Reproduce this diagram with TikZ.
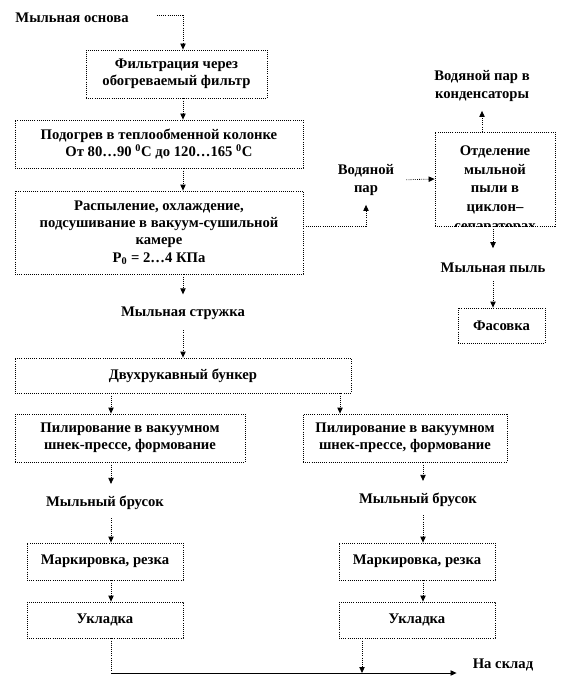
\documentclass[tikz,border=0pt]{standalone}
\usepackage{fontspec}
\setmainfont{Liberation Serif}
\usetikzlibrary{positioning,arrows.meta,calc}

\begin{document}
\begin{tikzpicture}[x=0.75pt, y=-0.75pt,
  box/.style={draw, densely dotted, line width=0.6pt, align=center,
    font=\bfseries\fontsize{11}{13}\selectfont, inner sep=1pt},
  lbl/.style={font=\bfseries\fontsize{11}{13}\selectfont, align=center,
    inner sep=1pt},
  arr/.style={densely dotted, line width=0.6pt,
    -{Triangle[length=4.5pt,width=4pt]}},
  solidarr/.style={line width=0.6pt, -{Triangle[length=4.5pt,width=4pt]}}
]
\useasboundingbox (0,0) rectangle (570,688);

% Columns of the connectors
\coordinate (main) at (183,0);
\coordinate (cL) at (111,0);
\coordinate (cM) at (340,0);
\coordinate (cR) at (423,0);

% Top: soap base in
\node[lbl] (osnova) at (72,18) {Мыльная основа};

\node[box, minimum width=135.75pt, minimum height=36pt] (filt) at (176.5,74)
  {Фильтрация через\\обогреваемый фильтр};
\draw[arr, shorten <=20pt] ([yshift=2pt]osnova.east) -| (filt.north -| main);

\node[box, minimum width=216pt, minimum height=36pt] (heat) at (159,144)
  {Подогрев в теплообменной колонке\\От 80…90 \textsuperscript{0}С до 120…165 \textsuperscript{0}С};
\draw[arr] (filt.south -| main) -- (heat.north -| main);

\node[box, minimum width=216pt, minimum height=62.25pt] (spray) at (159,232.5)
  {Распыление, охлаждение,\\подсушивание в вакуум-сушильной\\камере\\Р\textsubscript{0} = 2…4 КПа};
\draw[arr] (heat.south -| main) -- (spray.north -| main);

% Right branch: water vapour and dust
\node[lbl] (par) at (366,180) {Водяной\\пар};
\draw[arr, shorten >=6pt] ([yshift=4.9pt]spray.east) -| (par.south);

\node[box, minimum width=90pt, minimum height=70.5pt,
  path picture={\node[font=\bfseries\fontsize{11}{13.9}\selectfont, align=center]
    at ([yshift=-8pt]path picture bounding box.center)
    {Отделение\\мыльной\\пыли в\\циклон–\\сепараторах};}] (cyc) at (495,179) {};
\draw[arr, shorten <=8pt] (par.east) -- (cyc.west);

\node[lbl] (parcond) at (482,86) {Водяной пар в\\конденсаторы};
\draw[arr, shorten >=6pt] (parcond.south |- cyc.north) -- (parcond.south);

\node[lbl] (pyl) at (493,268) {Мыльная пыль};
\draw[arr, shorten >=10pt] (pyl.north |- cyc.south) -- (pyl.north);

\node[box, minimum width=65.25pt, minimum height=26.25pt] (fas) at (501.5,325.5)
  {Фасовка};
\draw[arr, shorten <=5pt] (pyl.south) -- (fas.north -| pyl.south);

% Main column: chips and bunker
\node[lbl] (struzhka) at (183,313) {Мыльная стружка};
\draw[arr, shorten >=8pt] (spray.south -| main) -- (struzhka.north);

\node[box, minimum width=252pt, minimum height=26.25pt] (bunker) at (183,375.5)
  {Двухрукавный бункер};
\draw[arr, shorten <=7pt] (struzhka.south) -- (bunker.north -| main);

% Two lines of milling
\node[box, minimum width=172.5pt, minimum height=36pt] (mill1) at (130,438)
  {Пилирование в вакуумном\\шнек-прессе, формование};
\node[box, minimum width=153pt, minimum height=36pt] (mill2) at (405,438)
  {Пилирование в вакуумном\\шнек-прессе, формование};
\draw[arr] (bunker.south -| cL) -- (mill1.north -| cL);
\draw[arr] (bunker.south -| cM) -- (mill2.north -| cM);

\node[lbl] (brus1) at (105,503) {Мыльный брусок};
\node[lbl] (brus2) at (418,500) {Мыльный брусок};
\draw[arr, shorten >=8pt] (mill1.south -| cL) -- (brus1.north -| cL);
\draw[arr, shorten >=8pt] (mill2.south -| cR) -- (brus2.north -| cR);

\node[box, minimum width=117pt, minimum height=27.75pt] (mark1) at (105,561.5)
  {Маркировка, резка};
\node[box, minimum width=117pt, minimum height=27.75pt] (mark2) at (417,561.5)
  {Маркировка, резка};
\draw[arr, shorten <=5pt] (brus1.south -| cL) -- (mark1.north -| cL);
\draw[arr, shorten <=5pt] (brus2.south -| cR) -- (mark2.north -| cR);

\node[box, minimum width=117pt, minimum height=27pt] (ukl1) at (105,620)
  {Укладка};
\node[box, minimum width=117pt, minimum height=27pt] (ukl2) at (417,620)
  {Укладка};
\draw[arr] (mark1.south -| cL) -- (ukl1.north -| cL);
\draw[arr] (mark2.south -| cR) -- (ukl2.north -| cR);

% To the store
\node[lbl] (sklad) at (503,665) {На склад};
\coordinate (turn) at (111,673);
\coordinate (join) at (362,673);
\draw[densely dotted, line width=0.6pt] (ukl1.south -| turn) -- (turn);
\draw[solidarr, shorten >=11pt] (turn) -- (turn -| sklad.west);
\draw[arr] (ukl2.south -| join) -- (join);

\end{tikzpicture}
\end{document}
